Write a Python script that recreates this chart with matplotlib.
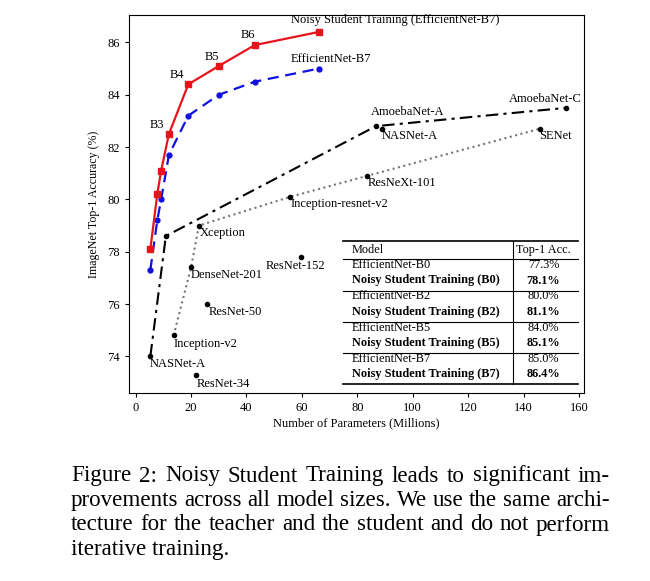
import matplotlib
matplotlib.use("Agg")
import matplotlib.pyplot as plt
from matplotlib.lines import Line2D
from matplotlib.transforms import Affine2D

plt.rcParams['font.family'] = ['Liberation Serif', 'DejaVu Serif']

# EfficientNet family (B0..B7)
eff_params = [5.3, 7.8, 9.2, 12, 19, 30, 43, 66]
noisy_acc = [78.1, 80.2, 81.1, 82.5, 84.4, 85.1, 85.9, 86.4]
eff_acc = [77.3, 79.2, 80.0, 81.7, 83.2, 84.0, 84.5, 85.0]
b_labels = ['B3', 'B4', 'B5', 'B6']

# NASNet / AmoebaNet frontier (dash-dot)
nas_params = [5.3, 10.9, 86.7, 155.3]
nas_acc = [74.0, 78.6, 82.8, 83.5]

# Other models frontier (dotted)
oth_params = [13.7, 20.0, 22.8, 55.8, 83.6, 145.8]
oth_acc = [74.8, 77.4, 79.0, 80.1, 80.9, 82.7]

# Single points
pt_names = ['NASNet-A', 'ResNet-152', 'ResNet-50', 'ResNet-34']
pt_params = [88.9, 59.8, 25.7, 21.9]
pt_acc = [82.7, 77.8, 76.0, 73.3]

# Point labels (name, x, y)
lbl_names = ['AmoebaNet-A', 'NASNet-A', 'AmoebaNet-C', 'SENet', 'ResNeXt-101',
             'Inception-resnet-v2', 'Xception', 'DenseNet-201', 'ResNet-152',
             'ResNet-50', 'Inception-v2', 'NASNet-A', 'ResNet-34']
lbl_x = [84.8, 88.8, 134.8, 145.7, 83.7, 56.0, 23.0, 20.0, 46.9, 26.2, 13.8, 5.2, 22.0]
lbl_y = [83.35, 82.43, 83.84, 82.43, 80.63, 79.81, 78.71, 77.12, 77.45,
         75.71, 74.46, 73.69, 72.95]

# Inset table
tab_models = ['EfficientNet-B0', 'Noisy Student Training (B0)',
              'EfficientNet-B2', 'Noisy Student Training (B2)',
              'EfficientNet-B5', 'Noisy Student Training (B5)',
              'EfficientNet-B7', 'Noisy Student Training (B7)']
tab_acc = ['77.3%', '78.1%', '80.0%', '81.1%', '84.0%', '85.1%', '85.0%', '86.4%']

caption = ["Figure 2:  Noisy Student Training leads to significant im-",
           "provements across all model sizes. We use the same archi-",
           "tecture for the teacher and the student and do not perform",
           "iterative training."]

W, H = 650, 581
fig = plt.figure(figsize=(W / 100, H / 100), dpi=100)
px = Affine2D().scale(1 / W, -1 / H).translate(0, 1) + fig.transFigure

ax = fig.add_axes([129 / W, 1 - 393 / H, (584 - 129) / W, (393 - 15) / H])
ax.plot(eff_params, noisy_acc, '-s', color='#e8141c', lw=1.6, ms=4, zorder=4)
ax.plot(eff_params, eff_acc, '--o', color='#1010e0', lw=1.6, ms=3.5,
        dashes=(5, 3), zorder=3)
ax.plot(nas_params, nas_acc, '-.o', color='black', lw=1.5, ms=3,
        dashes=(6, 2.5, 1.5, 2.5))
ax.plot(oth_params, oth_acc, ':o', color='#777777', lw=1.5, ms=3,
        mfc='black', mec='black')
ax.plot(pt_params, pt_acc, 'o', color='black', ms=3)

fs = 9
ax.text(56.0, 86.87, 'Noisy Student Training (EfficientNet-B7)', fontsize=fs,
        va='center')
ax.text(56.0, 85.37, 'EfficientNet-B7', fontsize=fs, va='center')
for lab, x, y in zip(b_labels, [7.7, 14.8, 27.4, 40.5], [82.84, 84.76, 85.45, 86.3]):
    ax.text(x, y, lab, fontsize=fs, ha='center', va='center')
for lab, x, y in zip(lbl_names, lbl_x, lbl_y):
    ax.text(x, y, lab, fontsize=fs, va='center')

ax.set_xlim(-2.4, 161.8)
ax.set_ylim(72.6, 87.05)
ax.set_xticks(range(0, 161, 20))
ax.set_yticks(range(74, 87, 2))
ax.tick_params(labelsize=fs, direction='out', length=3)
ax.set_xlabel('Number of Parameters (Millions)', fontsize=fs, labelpad=2)
ax.set_ylabel('ImageNet Top-1 Accuracy (%)', fontsize=8.6, labelpad=5)

# table drawn in pixel space
tx0, tx1, tdiv = 342.7, 578.3, 512.7
hlines = [(241.3, 1.2), (259.3, 0.8), (290.7, 0.8), (322.3, 0.8), (353.3, 0.8),
          (384.0, 1.2)]
for y, lw in hlines:
    fig.add_artist(Line2D([tx0, tx1], [y, y], color='black', lw=lw, transform=px))
fig.add_artist(Line2D([tdiv, tdiv], [241.3, 384.0], color='black', lw=0.8,
                      transform=px))
tfs = 8.8
fig.text(351.7, 253, 'Model', fontsize=tfs, va='baseline', transform=px)
fig.text(543.5, 253, 'Top-1 Acc.', fontsize=tfs, va='baseline', ha='center',
         transform=px)
row_y = [268, 283.5, 299.3, 315, 330.7, 346, 361.7, 377.3]
for i, (m, a, y) in enumerate(zip(tab_models, tab_acc, row_y)):
    w = 'bold' if i % 2 else 'normal'
    fig.text(351.7, y, m, fontsize=tfs, va='baseline', weight=w, transform=px)
    fig.text(543.5, y, a, fontsize=tfs, va='baseline', ha='center', weight=w,
             transform=px)

# justified caption, font size chosen so the full lines fit naturally
left, right = 71, 610
renderer = fig.canvas.get_renderer()
probe = fig.text(0, 0, caption[2], fontsize=14)
nat = probe.get_window_extent(renderer).width
probe.remove()
cap_fs = 14 * (right - left) / nat * 0.985
cap_y = [481.5, 506, 530.5, 555]
for k, (line, y) in enumerate(zip(caption, cap_y)):
    if k == len(caption) - 1:
        fig.text(left, y, line, fontsize=cap_fs, va='baseline', transform=px)
        continue
    words = line.replace(':  ', ': ').split(' ')
    texts = [fig.text(0, y, wd, fontsize=cap_fs, va='baseline', transform=px)
             for wd in words]
    widths = [t.get_window_extent(renderer).width for t in texts]
    gap = (right - left - sum(widths)) / (len(words) - 1)
    x = left
    for t, wdt in zip(texts, widths):
        t.set_x(x)
        x += wdt + gap

fig.savefig('out.png', dpi=100)
